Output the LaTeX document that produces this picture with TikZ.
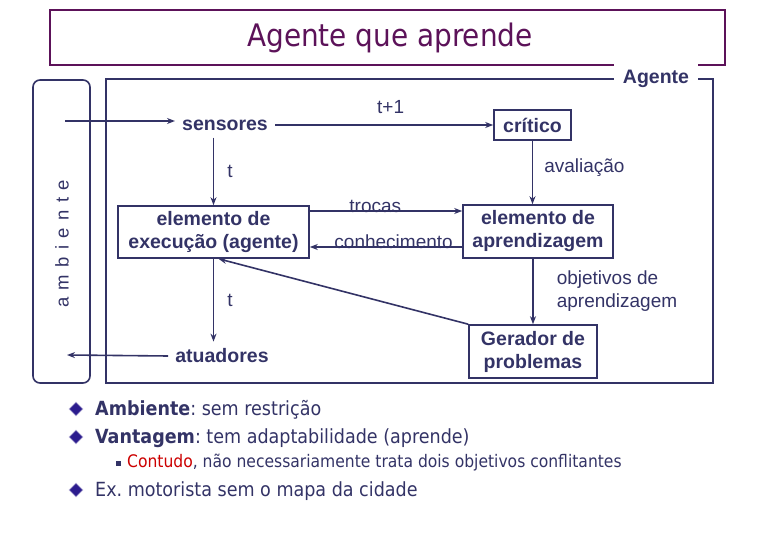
\documentclass[tikz,border=0pt]{standalone}
\usepackage{fontspec}
\setmainfont{Liberation Sans}
\newfontfamily\titlefont{DejaVu Sans Condensed}
\newfontfamily\spacedfont[LetterSpace=40]{Liberation Sans}
\usepackage{tikz}
\usetikzlibrary{
    arrows.meta,
    positioning,
    shapes.geometric
}
\usepackage{xcolor}
\definecolor{navy}{HTML}{333366}
\definecolor{plum}{HTML}{5C1259}
\definecolor{gemblue}{HTML}{2C1C8E}
\definecolor{warnred}{HTML}{CC0000}
\frenchspacing

\begin{document}
\begin{tikzpicture}[
        x=1pt, y=-1pt,
        >={Stealth[length=8pt,width=6pt]},
        link/.style={->, line width=1.6pt, draw=navy},
        frame/.style={line width=1.6pt, draw=navy},
        block/.style={
            draw=navy,
            line width=1.6pt,
            inner sep=2pt,
            align=center,
            text=navy,
            font=\fontsize{19.5}{23}\selectfont\bfseries
        },
        plain/.style={
            text=navy,
            inner sep=7pt,
            font=\fontsize{19.5}{23}\selectfont\bfseries
        },
        tag/.style={
            text=navy,
            inner sep=1pt,
            align=left,
            font=\fontsize{19}{23}\selectfont
        },
        gem/.style={
            diamond,
            fill=gemblue,
            draw=gemblue!35,
            line width=0.8pt,
            minimum size=14pt,
            inner sep=0pt
        },
        item/.style={
            anchor=west,
            inner sep=0pt,
            text=navy,
            font=\titlefont\fontsize{19.5}{22}\selectfont
        }
    ]
        \useasboundingbox (0,0) rectangle (780,540);
        \node[draw=plum, line width=1.5pt, minimum width=675pt,
            minimum height=55pt] (title) at (387.5,37.5) {};
        \node[text=plum, font=\titlefont\fontsize{31}{34}\selectfont]
            (titletext) at (390,38) {Agente que aprende};
        \draw[frame, rounded corners=7pt] (33,80) rectangle (90,383);
        \node[rotate=90, text=navy, font=\spacedfont\fontsize{18.5}{20}\selectfont]
            (amb) at (62,244) {ambiente};
        \draw[frame] (106,79) rectangle (713,383);
        \node[plain, fill=white, inner sep=9pt] (agente) at (656,79) {Agente};
        \node[plain] (sens) at (225,125) {sensores};
        \node[block, minimum width=77pt, minimum height=30pt] (crit) at (532.5,125) {crítico};
        \node[block, minimum width=150pt, minimum height=53pt] (aprend) at (538,231.5)
            {elemento de\\aprendizagem};
        \node[block, minimum width=191pt, minimum height=52pt] (exec) at (213.5,232)
            {elemento de\\execução (agente)};
        \node[plain] (atu) at (222,356) {atuadores};
        \node[block, minimum width=128pt, minimum height=53pt] (ger) at (533,351.5)
            {Gerador de\\problemas};
        \coordinate (envin) at (65,121);
        \coordinate (envout) at (67,355);
        \draw[link] (envin) -- (envin -| sens.west);
        \draw[link] (sens.east) --
            node[tag, pos=0.53, above=10pt] {t+1}
            (crit.west);
        \draw[link] (crit.south) --
            node[tag, pos=0.42, right=10pt] {avaliação}
            (crit.south |- aprend.north);
        \draw[link] (exec.north |- sens.south) --
            node[tag, midway, right=12pt] {t}
            (exec.north);
        \draw[link] (exec.south) --
            node[tag, midway, right=12pt] {t}
            (exec.south |- atu.north);
        \draw[link] (atu.west) -- (envout);
        \draw[link] ([yshift=21pt]exec.east) --
            node[tag, pos=0.43, above=-3pt] {trocas}
            ([yshift=21pt]exec.east -| aprend.west);
        \draw[link] ([yshift=-15pt]exec.east -| aprend.west) --
            node[tag, pos=0.45, above=-3pt] {conhecimento}
            ([yshift=-15pt]exec.east);
        \draw[link] (ger.north |- aprend.south) --
            node[tag, midway, right=22pt] {objetivos de\\aprendizagem}
            (ger.north);
        \draw[link] (ger.north west) -- ([xshift=5pt]exec.south);
        \node[gem] (g1) at (76,409) {};
        \node[gem] (g2) at (76,437) {};
        \node[gem] (g3) at (76,490) {};
        \node[fill=navy, minimum size=5pt, inner sep=0pt] (sq) at (118,463) {};
        \node[item] (b1) at (95,410) {\textbf{Ambiente}: sem restrição};
        \node[item] (b2) at (95,438) {\textbf{Vantagem}: tem adaptabilidade (aprende)};
        \node[item, font=\titlefont\fontsize{17.3}{19}\selectfont] (b3) at (127,463)
            {\textcolor{warnred}{Contudo}, não necessariamente trata dois objetivos conflitantes};
        \node[item] (b4) at (95,491) {Ex. motorista sem o mapa da cidade};
    \end{tikzpicture}
\end{document}
